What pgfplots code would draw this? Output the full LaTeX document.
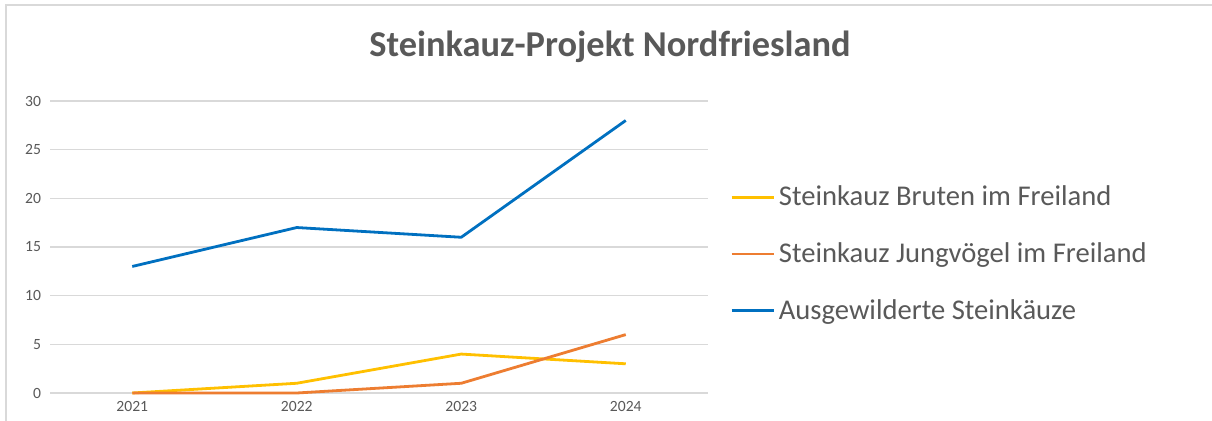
\documentclass[border=0pt]{standalone}
\usepackage{fontspec}
\setmainfont{Carlito}
\usepackage{pgfplots}
\pgfplotsset{compat=1.18}
\definecolor{cYellow}{HTML}{FFC000}
\definecolor{cOrange}{HTML}{ED7D31}
\definecolor{cBlue}{HTML}{0070C0}
\definecolor{cGrid}{HTML}{D9D9D9}
\definecolor{cText}{HTML}{595959}
\begin{document}
\begin{tikzpicture}
\useasboundingbox (0,0) rectangle (606bp,210.5bp);
\fill[white] (0,0) rectangle (606bp,210.5bp);
\draw[cGrid, line width=0.75bp] (3bp,0) -- (3bp,208bp) -- (606bp,208bp);
\node[font=\fontsize{18.2bp}{21bp}\selectfont\bfseries, text=cText] at (305bp,187bp) {Steinkauz-Projekt Nordfriesland};
\begin{axis}[
  at={(25bp,14bp)}, anchor=south west,
  scale only axis, width=329bp, height=146bp,
  xmin=2020.5, xmax=2024.5, ymin=0, ymax=30,
  xtick={2021,2022,2023,2024},
  xticklabels={2021,2022,2023,2024},
  ytick={0,5,...,30},
  ymajorgrids, grid style={cGrid, line width=0.75bp},
  axis line style={draw=none},
  major tick length=0pt,
  ticklabel style={font=\fontsize{7.8bp}{9bp}\selectfont, text=cText},
  /pgf/number format/assume math mode=true,
  yticklabel style={xshift=-1bp},
  xticklabel style={yshift=-0.5bp},
  clip=false,
  legend style={at={(1.033,0.476)}, anchor=west, draw=none, fill=none,
    font=\fontsize{14.3bp}{17bp}\selectfont, text=cText,
    row sep=13bp, inner sep=0pt},
  legend cell align=left,
  legend image code/.code={\draw[#1] (0bp,0bp) -- (21bp,0bp);},
]
\addplot[cYellow, line width=1.4bp, line join=round] coordinates {(2021,0) (2022,1) (2023,4) (2024,3)};
\addlegendentry{Steinkauz Bruten im Freiland}
\addplot[cOrange, line width=1.4bp, line join=round] coordinates {(2021,0) (2022,0) (2023,1) (2024,6)};
\addlegendentry{Steinkauz Jungvögel im Freiland}
\addplot[cBlue, line width=1.4bp, line join=round] coordinates {(2021,13) (2022,17) (2023,16) (2024,28)};
\addlegendentry{Ausgewilderte Steinkäuze}
\end{axis}
\end{tikzpicture}
\end{document}
